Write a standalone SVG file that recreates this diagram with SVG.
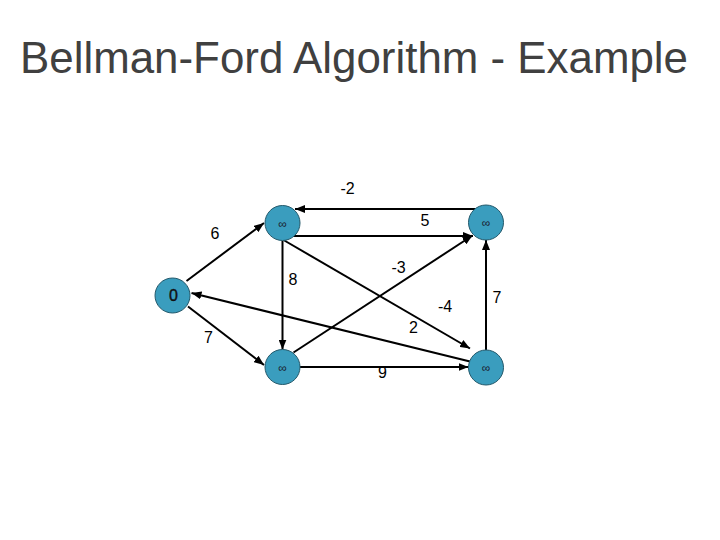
<svg xmlns="http://www.w3.org/2000/svg" width="720" height="540" viewBox="0 0 720 540">
<style>
.title{font-family:"Liberation Sans",Arial,sans-serif;font-size:44px;fill:#404040}
.lbl{font-family:"Liberation Sans",Arial,sans-serif;font-size:16px;fill:#000;text-anchor:middle}
.node circle{fill:#3A9DBE;stroke:#24596b;stroke-width:1}
.inf{font-family:"Liberation Sans","DejaVu Sans",sans-serif;font-size:12px;fill:#1a2230;text-anchor:middle}
.zero{font-family:"Liberation Sans",Arial,sans-serif;font-size:16px;fill:#111;text-anchor:middle;stroke:#111;stroke-width:0.4}
.edge{stroke:#000;stroke-width:2;fill:none;marker-end:url(#ah)}
</style>
<defs>
<marker id="ah" markerUnits="userSpaceOnUse" markerWidth="10" markerHeight="8" refX="10" refY="4" orient="auto">
<path d="M0,0 L10,4 L0,8 Z" fill="#000"/>
</marker>
</defs>
<rect width="720" height="540" fill="#fff"/>
<text class="title" x="20" y="73" textLength="668" lengthAdjust="spacingAndGlyphs">Bellman-Ford Algorithm - Example</text>
<g id="connectors">
<line class="edge" x1="475" y1="209" x2="295" y2="209"/>
<line class="edge" x1="294" y1="236" x2="473" y2="236"/>
<line class="edge" x1="186.5" y1="281" x2="264" y2="223"/>
<line class="edge" x1="282.5" y1="240.5" x2="282.5" y2="349.5"/>
<line class="edge" x1="188" y1="306.5" x2="264" y2="365"/>
<line class="edge" x1="283.5" y1="240" x2="470" y2="348.5"/>
<line class="edge" x1="293.5" y1="352.5" x2="472.5" y2="235.5"/>
<line class="edge" x1="470" y1="361.5" x2="191.5" y2="293"/>
<line class="edge" x1="300" y1="367" x2="468.5" y2="367"/>
<line class="edge" x1="486" y1="350" x2="486" y2="240"/>
</g>
<g id="edge-labels">
<text class="lbl" x="347.5" y="194">-2</text>
<text class="lbl" x="425" y="225.5">5</text>
<text class="lbl" x="215" y="239">6</text>
<text class="lbl" x="293" y="285">8</text>
<text class="lbl" x="398.5" y="272.5">-3</text>
<text class="lbl" x="445" y="311.5">-4</text>
<text class="lbl" x="497" y="302.5">7</text>
<text class="lbl" x="413.5" y="333">2</text>
<text class="lbl" x="208.5" y="342.5">7</text>
<text class="lbl" x="382.5" y="378">9</text>
</g>
<g id="node-s" class="node"><circle cx="172.5" cy="295.5" r="17.5"/><text class="zero" x="173.5" y="301">0</text></g>
<g id="node-t" class="node"><circle cx="282.5" cy="223" r="17.5"/><text class="inf" x="282.5" y="227.5">∞</text></g>
<g id="node-x" class="node"><circle cx="486" cy="222.5" r="17.5"/><text class="inf" x="486" y="227">∞</text></g>
<g id="node-y" class="node"><circle cx="282.5" cy="367" r="17.5"/><text class="inf" x="282.5" y="371.5">∞</text></g>
<g id="node-z" class="node"><circle cx="486" cy="367.5" r="17.5"/><text class="inf" x="486" y="372">∞</text></g>
</svg>
